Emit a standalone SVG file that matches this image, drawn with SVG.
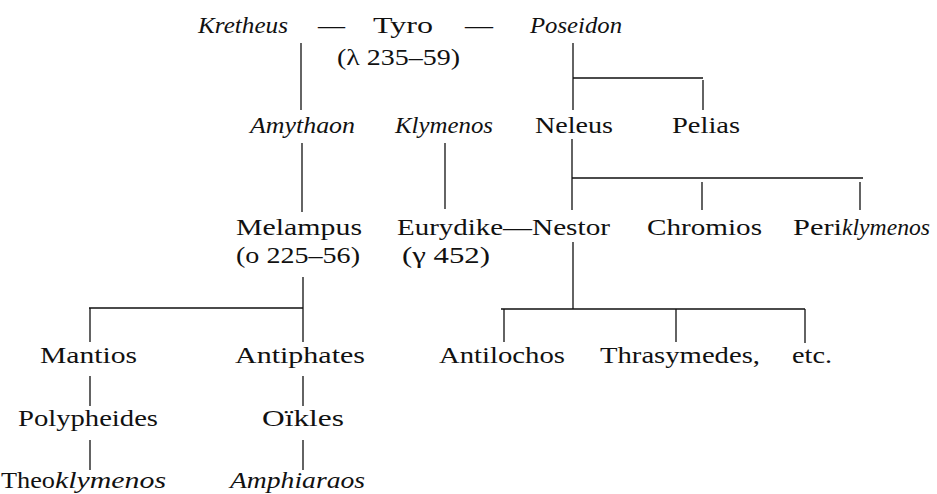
<svg xmlns="http://www.w3.org/2000/svg" width="937" height="494" viewBox="0 0 937 494">
<style>
text{font-family:'Liberation Serif','DejaVu Serif','Times New Roman',serif;font-size:24px;fill:#111;}
.i{font-style:italic;}
.c{stroke:#111;stroke-width:1.3;fill:none;}
</style>
<rect width="937" height="494" fill="#fff"/>
<g id="connectors" class="c">
<path d="M301 43V110"/>
<path d="M573 43V110M573 78H703M703 80V110"/>
<path d="M302 143V212"/>
<path d="M445 143V209"/>
<path d="M572 139V210M572 178H863M702 182V210M860 182V210"/>
<path d="M303 277V342M89 308H303M90 308V342"/>
<path d="M573 242V309M501 309H805M504 309V342M676 309V342M805 309V343"/>
<path d="M90 376V406M90 440V470"/>
<path d="M303 376V406M303 440V470"/>
</g>
<g id="kretheus"><text class="i" x="198" y="33" textLength="90" lengthAdjust="spacingAndGlyphs">Kretheus</text></g>
<g id="dash1"><text x="318" y="33" textLength="27" lengthAdjust="spacingAndGlyphs">—</text></g>
<g id="tyro"><text x="373" y="33" textLength="60" lengthAdjust="spacingAndGlyphs">Tyro</text>
<text x="337" y="65" textLength="123" lengthAdjust="spacingAndGlyphs">(λ 235–59)</text></g>
<g id="dash2"><text x="465" y="33" textLength="28" lengthAdjust="spacingAndGlyphs">—</text></g>
<g id="poseidon"><text class="i" x="530" y="33" textLength="92" lengthAdjust="spacingAndGlyphs">Poseidon</text></g>
<g id="amythaon"><text class="i" x="250" y="133" textLength="105" lengthAdjust="spacingAndGlyphs">Amythaon</text></g>
<g id="klymenos"><text class="i" x="395" y="133" textLength="98" lengthAdjust="spacingAndGlyphs">Klymenos</text></g>
<g id="neleus"><text x="535" y="133" textLength="78" lengthAdjust="spacingAndGlyphs">Neleus</text></g>
<g id="pelias"><text x="672" y="133" textLength="68" lengthAdjust="spacingAndGlyphs">Pelias</text></g>
<g id="melampus"><text x="236" y="235" textLength="126" lengthAdjust="spacingAndGlyphs">Melampus</text>
<text x="236" y="263" textLength="124" lengthAdjust="spacingAndGlyphs">(ο 225–56)</text></g>
<g id="eurydike"><text x="397" y="235" textLength="135" lengthAdjust="spacingAndGlyphs">Eurydike—</text>
<text x="402" y="263" textLength="88" lengthAdjust="spacingAndGlyphs">(γ 452)</text></g>
<g id="nestor"><text x="532" y="235" textLength="78" lengthAdjust="spacingAndGlyphs">Nestor</text></g>
<g id="chromios"><text x="647" y="235" textLength="115" lengthAdjust="spacingAndGlyphs">Chromios</text></g>
<g id="periklymenos"><text x="793" y="235" textLength="49" lengthAdjust="spacingAndGlyphs">Peri</text><text class="i" x="842" y="235" textLength="88" lengthAdjust="spacingAndGlyphs">klymenos</text></g>
<g id="mantios"><text x="40" y="363" textLength="97" lengthAdjust="spacingAndGlyphs">Mantios</text></g>
<g id="antiphates"><text x="235" y="363" textLength="130" lengthAdjust="spacingAndGlyphs">Antiphates</text></g>
<g id="antilochos"><text x="439" y="363" textLength="126" lengthAdjust="spacingAndGlyphs">Antilochos</text></g>
<g id="thrasymedes"><text x="600" y="363" textLength="160" lengthAdjust="spacingAndGlyphs">Thrasymedes,</text></g>
<g id="etc"><text x="792" y="363" textLength="40" lengthAdjust="spacingAndGlyphs">etc.</text></g>
<g id="polypheides"><text x="18" y="426" textLength="140" lengthAdjust="spacingAndGlyphs">Polypheides</text></g>
<g id="oikles"><text x="262" y="426" textLength="82" lengthAdjust="spacingAndGlyphs">Oïkles</text></g>
<g id="theoklymenos"><text x="1" y="488" textLength="54" lengthAdjust="spacingAndGlyphs">Theo</text><text class="i" x="55" y="488" textLength="111" lengthAdjust="spacingAndGlyphs">klymenos</text></g>
<g id="amphiaraos"><text class="i" x="230" y="488" textLength="135" lengthAdjust="spacingAndGlyphs">Amphiaraos</text></g>
</svg>
